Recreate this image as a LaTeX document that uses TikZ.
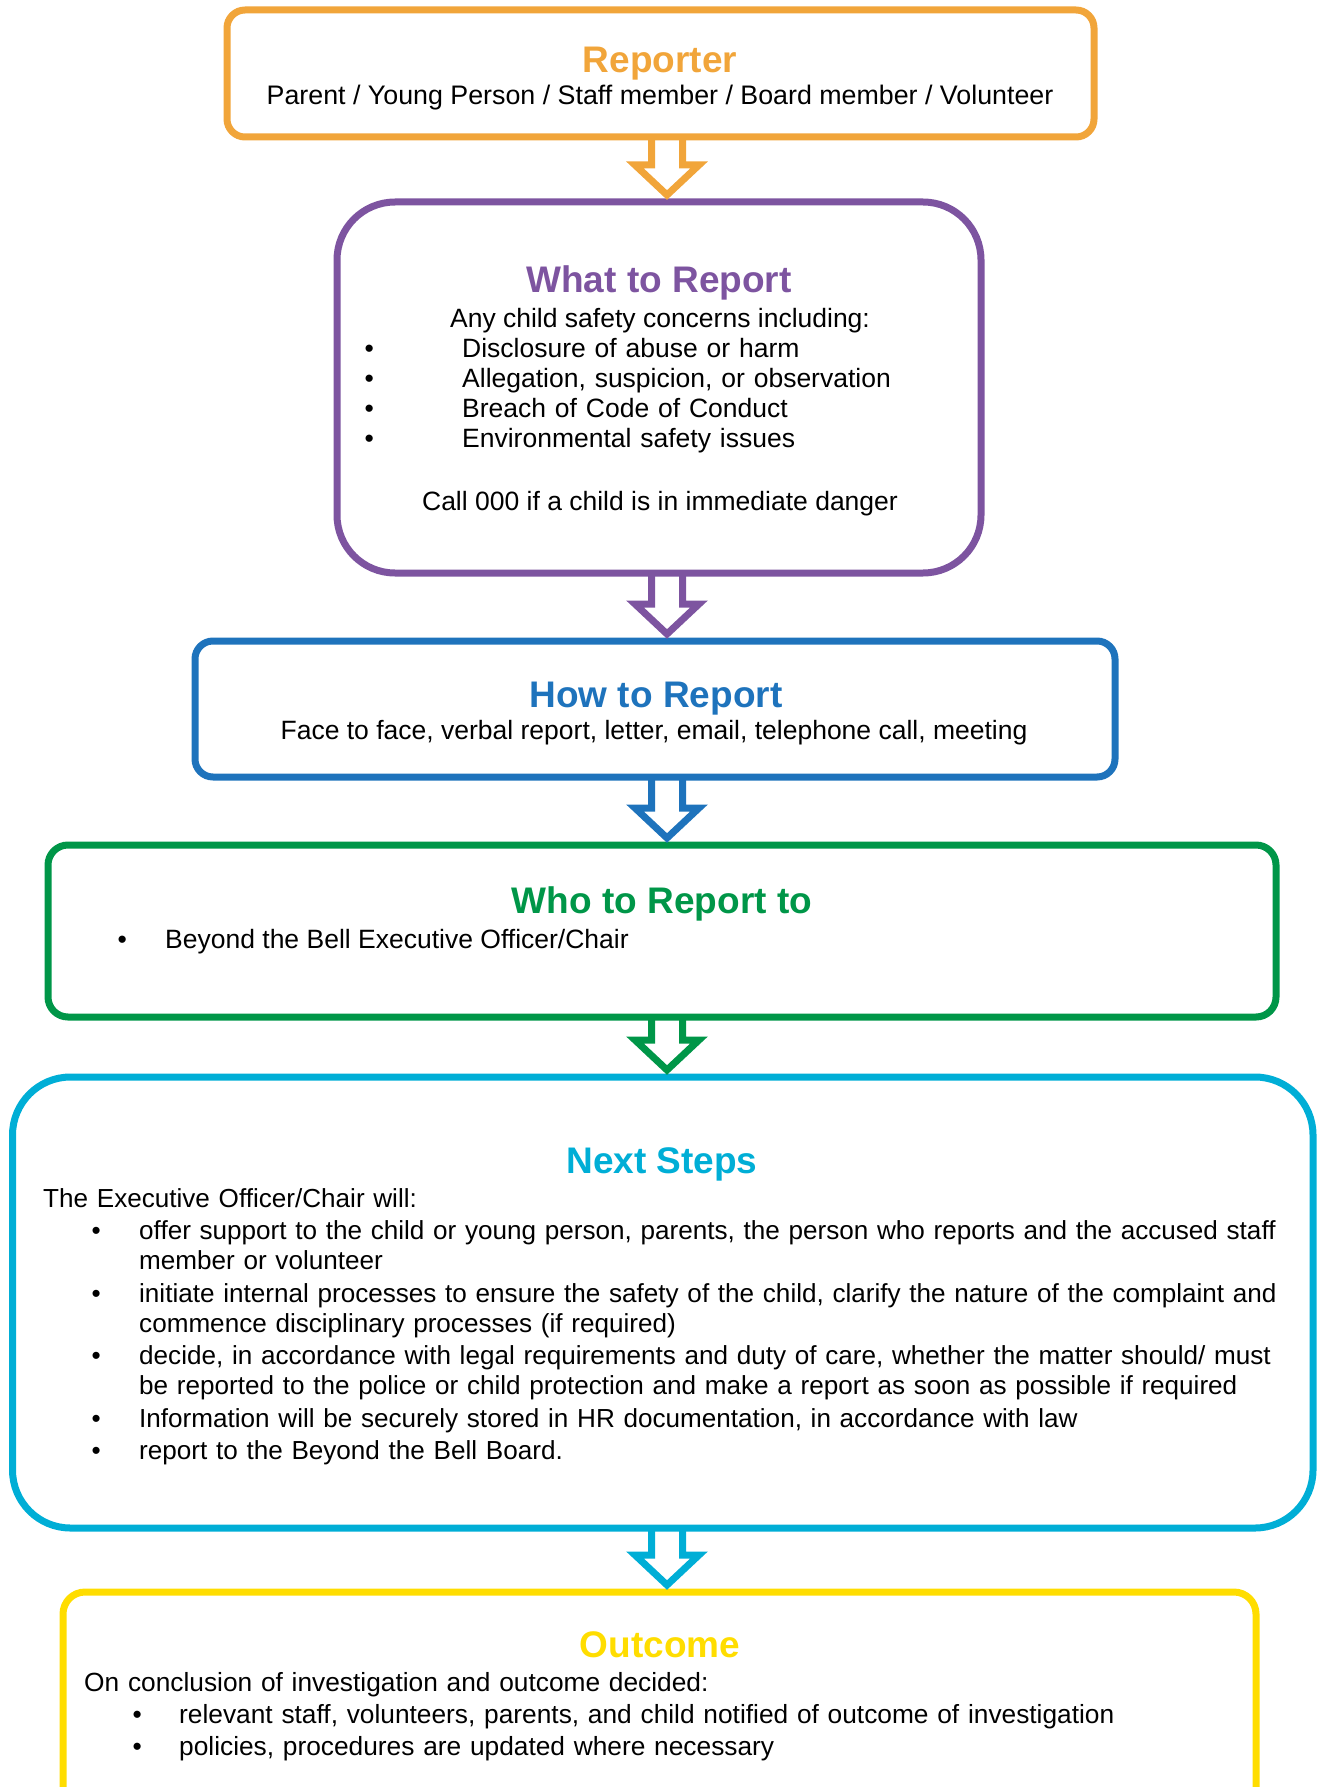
\documentclass[tikz,border=0pt]{standalone}
\usepackage{fontspec}
\setmainfont{Liberation Sans}
\usepackage{tikz}
\usetikzlibrary{calc}
\definecolor{repcol}{RGB}{241,165,58}
\definecolor{whatcol}{RGB}{125,84,160}
\definecolor{howcol}{RGB}{30,115,188}
\definecolor{whocol}{RGB}{0,150,72}
\definecolor{stepcol}{RGB}{0,174,214}
\definecolor{outcol}{RGB}{255,221,0}
\newcommand{\bodyfont}{\fontsize{26.5}{30}\selectfont}
\newcommand{\headfont}{\fontsize{37}{42}\selectfont\bfseries}
\newcommand{\bitem}[3]{\par\hangindent=\dimexpr#1+#2\relax\hangafter=1
  \hspace*{#1}\makebox[#2][l]{\textbullet}#3}
\newcommand{\flowarrow}[3]{%
  \draw[blockarrow=#3]
    ($(#1.south -| ax)+(-15.5,0)$) -- ($(#2.north -| ax)+(-15.5,-37)$)
    -- ($(#2.north -| ax)+(-32,-37)$) -- ($(#2.north -| ax)+(0,-7)$)
    -- ($(#2.north -| ax)+(32,-37)$) -- ($(#2.north -| ax)+(15.5,-37)$)
    -- ($(#1.south -| ax)+(15.5,0)$);}
\tikzset{
  flowbox/.style={draw=#1, line width=7pt, inner sep=0pt, outer sep=0pt},
  heading/.style={text=#1, font=\headfont, anchor=base, inner sep=0pt},
  midtext/.style={font=\bodyfont, anchor=base, inner sep=0pt},
  listtext/.style={font=\bodyfont, anchor=base west, inner sep=0pt, align=left},
  blockarrow/.style={draw=#1, line width=7pt, line join=miter}
}

\begin{document}
\begin{tikzpicture}[x=1pt,y=-1pt]
  \useasboundingbox (0,0) rectangle (1317,1787);
  \clip (0,0) rectangle (1317,1787);

  \node[flowbox=repcol, rounded corners=18pt, minimum width=867pt, minimum height=127pt] (rep) at (660.5,73.5) {};
  \node[heading=repcol] (repT) at (660,73) {Reporter};
  \node[midtext, font=\fontsize{26.8}{30}\selectfont] (repL) at (660,105) {Parent / Young Person / Staff member / Board member / Volunteer};

  \node[flowbox=whatcol, rounded corners=58pt, minimum width=644pt, minimum height=371pt] (what) at (659,387.5) {};
  \node[heading=whatcol] (whatT) at (659,292) {What to Report};
  \node[midtext] (whatA) at (660,327) {Any child safety concerns including:};
  \node[listtext, text width=560pt] (whatL) at (364.4,357) {%
    \makebox[97.6pt][l]{\textbullet}Disclosure of abuse or harm
    \bitem{0pt}{97.6pt}{Allegation, suspicion, or observation}
    \bitem{0pt}{97.6pt}{Breach of Code of Conduct}
    \bitem{0pt}{97.6pt}{Environmental safety issues}};
  \node[midtext] (whatC) at (660,510) {Call 000 if a child is in immediate danger};

  \node[flowbox=howcol, rounded corners=18pt, minimum width=920pt, minimum height=136pt] (how) at (655,709) {};
  \node[heading=howcol] (howT) at (656,707) {How to Report};
  \node[midtext] (howL) at (654,739) {Face to face, verbal report, letter, email, telephone call, meeting};

  \node[flowbox=whocol, rounded corners=20pt, minimum width=1228pt, minimum height=172pt] (who) at (662,931) {};
  \node[heading=whocol] (whoT) at (662,913) {Who to Report to};
  \node[listtext] (whoL) at (117.4,948) {\makebox[47.6pt][l]{\textbullet}Beyond the Bell Executive Officer/Chair};

  \node[flowbox=stepcol, rounded corners=58pt, minimum width=1300.5pt, minimum height=451pt] (steps) at (662.75,1302.5) {};
  \node[heading=stepcol] (stepsT) at (662,1173) {Next Steps};
  \node[listtext, font=\fontsize{26.1}{30}\selectfont, text width=1262pt] (stepsL) at (43,1207) {\setlength{\parskip}{2.5pt}\raggedright
    The Executive Officer/Chair will:
    \bitem{48.4pt}{47.6pt}{offer support to the child or young person, parents, the person who reports and the accused staff\newline member or volunteer}
    \bitem{48.4pt}{47.6pt}{initiate internal processes to ensure the safety of the child, clarify the nature of the complaint and\newline commence disciplinary processes (if required)}
    \bitem{48.4pt}{47.6pt}{decide, in accordance with legal requirements and duty of care, whether the matter should/ must\newline be reported to the police or child protection and make a report as soon as possible if required}
    \bitem{48.4pt}{47.6pt}{Information will be securely stored in HR documentation, in accordance with law}
    \bitem{48.4pt}{47.6pt}{report to the Beyond the Bell Board.}};

  \node[flowbox=outcol, rounded corners=22pt, minimum width=1193pt, minimum height=240pt] (outcome) at (659.5,1712) {};
  \node[heading=outcol] (outcomeT) at (660,1657) {Outcome};
  \node[listtext, font=\fontsize{26.3}{30}\selectfont, text width=1150pt] (outcomeL) at (84,1691) {\setlength{\parskip}{2pt}\raggedright
    On conclusion of investigation and outcome decided:
    \bitem{48.4pt}{46.6pt}{relevant staff, volunteers, parents, and child notified of outcome of investigation}
    \bitem{48.4pt}{46.6pt}{policies, procedures are updated where necessary}};

  \coordinate (ax) at (667,0);
  \flowarrow{rep}{what}{repcol}
  \flowarrow{what}{how}{whatcol}
  \flowarrow{how}{who}{howcol}
  \flowarrow{who}{steps}{whocol}
  \flowarrow{steps}{outcome}{stepcol}
\end{tikzpicture}
\end{document}
